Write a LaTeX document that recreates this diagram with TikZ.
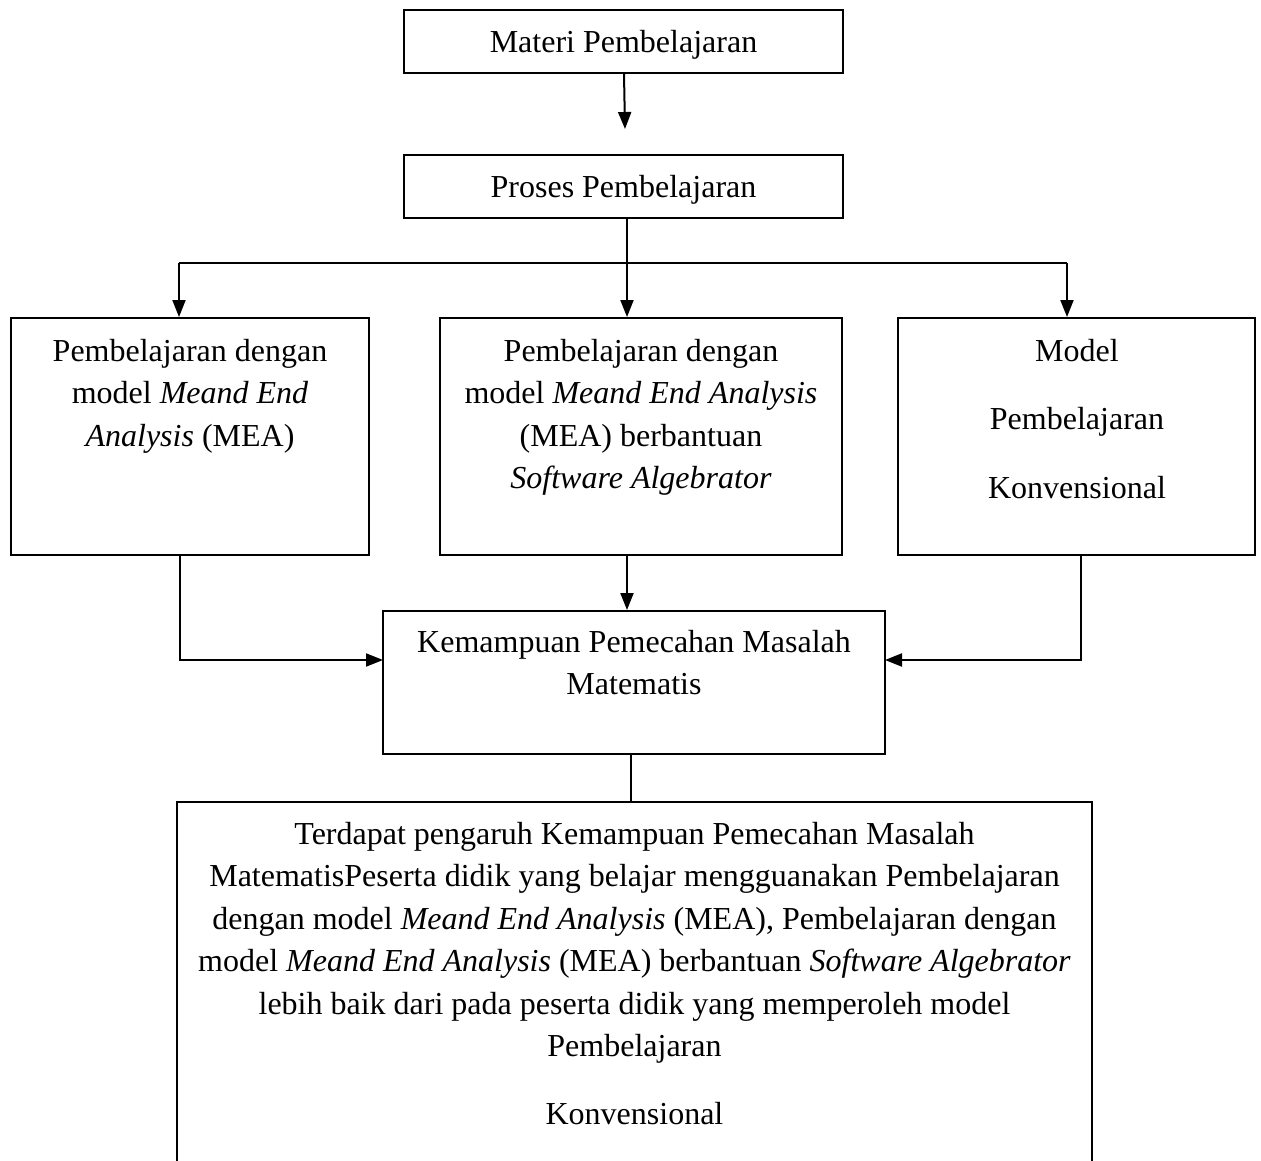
\documentclass[tikz,border=0pt]{standalone}
\usepackage{fontspec}
\setmainfont{Liberation Serif}
\usetikzlibrary{arrows.meta}
\tikzset{
  box/.style={draw=black, line width=2pt, rectangle, inner sep=0pt, fill=none},
  txt/.style={align=center, inner sep=0pt, font=\fontsize{32}{42.5}\selectfont},
  conn/.style={draw=black, line width=2pt},
  arr/.style={conn, -{Triangle[length=17pt,width=13pt]}}
}
\begin{document}
\begin{tikzpicture}[x=1pt,y=-1pt]
\useasboundingbox (0,0) rectangle (1261,1161);
\clip (0,0) rectangle (1261,1161);
% boxes
\node[box, minimum width=439pt, minimum height=63pt] (materi) at (623.5,41.5) {};
\node[box, minimum width=439pt, minimum height=63pt] (proses) at (623.5,186.5) {};
\node[box, minimum width=358pt, minimum height=237pt] (left) at (190,436.5) {};
\node[box, minimum width=402pt, minimum height=237pt] (mid) at (641,436.5) {};
\node[box, minimum width=357pt, minimum height=237pt] (right) at (1076.5,436.5) {};
\node[box, minimum width=502pt, minimum height=143pt] (kem) at (634,682.5) {};
\node[box, minimum width=915pt, minimum height=380pt] (hasil) at (634.5,992) {};
% texts
\node[txt] (materiT) at (623.5,44.5) {Materi Pembelajaran};
\node[txt] (prosesT) at (623.5,189.5) {Proses Pembelajaran};
\node[txt, anchor=north] (leftT) at (190,339) {Pembelajaran dengan\\ model \textit{Meand End}\\ \textit{Analysis} (MEA)};
\node[txt, anchor=north] (midT) at (641,339) {Pembelajaran dengan\\ model \textit{Meand End Analysis}\\ (MEA) berbantuan\\ \textit{Software Algebrator}};
\node[txt, anchor=north] (rightT) at (1077,339) {Model\\[26pt] Pembelajaran\\[26pt] Konvensional};
\node[txt, anchor=north] (kemT) at (634,630) {Kemampuan Pemecahan Masalah\\ Matematis};
\node[txt, anchor=north] (hasilT) at (634.5,822) {Terdapat pengaruh Kemampuan Pemecahan Masalah\\ MatematisPeserta didik yang belajar mengguanakan Pembelajaran\\ dengan model \textit{Meand End Analysis} (MEA), Pembelajaran dengan\\ model \textit{Meand End Analysis} (MEA) berbantuan \textit{Software Algebrator}\\ lebih baik dari pada peserta didik yang memperoleh model\\ Pembelajaran\\[25.5pt] Konvensional};
% connectors
\coordinate (stop1) at (625,129);
\draw[arr] (materi.south -| 624,0) -- (stop1);
\coordinate (hl) at (179,263);
\coordinate (hr) at (1067,263);
\draw[arr] (proses.south -| 627,0) -- (mid.north -| 627,0);
\draw[conn] (hl) -- (hr);
\draw[arr] (hl) -- (hl |- left.north);
\draw[arr] (hr) -- (hr |- right.north);
\coordinate (lb) at (180,555);
\coordinate (rb) at (1081,555);
\coordinate (kl) at (383,660);
\coordinate (kr) at (885,660);
\draw[arr] (lb) |- (kl);
\draw[arr] (rb) |- (kr);
\draw[arr] (mid.south -| 627,0) -- (kem.north -| 627,0);
\draw[conn] (kem.south -| 631,0) -- (hasil.north -| 631,0);
\end{tikzpicture}
\end{document}
